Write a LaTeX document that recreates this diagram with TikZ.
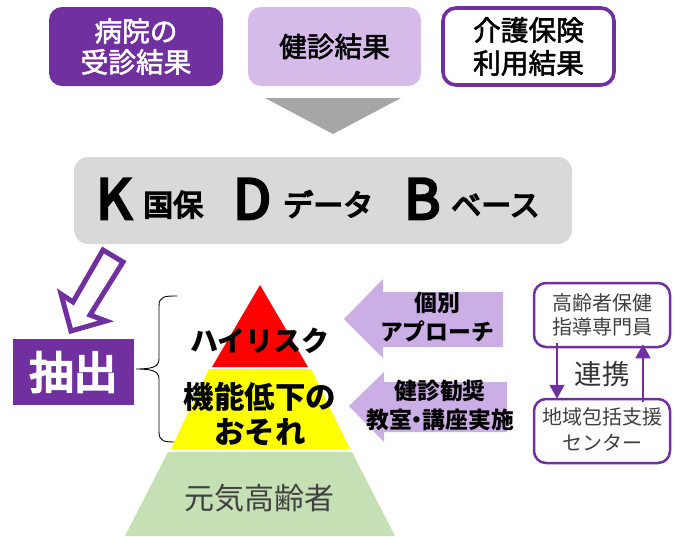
\documentclass[tikz,border=0pt]{standalone}
\usepackage{fontspec}
\setmainfont{Noto Sans CJK JP}
\newfontfamily\med[FakeBold=2]{Noto Sans CJK JP}
\newfontfamily\hvy[FakeBold=5]{Noto Sans CJK JP}
\usetikzlibrary{arrows.meta,calc}
\definecolor{pur}{HTML}{7030A0}
\definecolor{lpur}{HTML}{CCAEE6}
\definecolor{lpurb}{HTML}{D6BAEA}
\definecolor{gr}{HTML}{D9D9D9}
\definecolor{dgr}{HTML}{A6A6A6}
\definecolor{grn}{HTML}{C5E0B4}
\definecolor{yel}{HTML}{FFFF00}
\definecolor{rd}{HTML}{FF0000}
\newcommand{\fs}[2]{\fontsize{#1}{#2}\selectfont}
\tikzset{
 topbox/.style={rounded corners=13pt,minimum width=#1,minimum height=79pt,inner sep=0pt,align=center,font=\med\fs{27.7}{31}},
 lab/.style={inner sep=0pt,align=center},
 smallbox/.style={draw=pur,line width=2.5pt,fill=white,rounded corners=12pt,minimum width=136pt,minimum height=64pt,inner sep=0pt,align=center,text=black!75},
 linkarrow/.style={draw=pur,line width=1.6pt,-{Triangle[length=14pt,width=15pt]}},
}
\begin{document}
\begin{tikzpicture}[x=1pt,y=-1pt]
\useasboundingbox (0,0) rectangle (677,536);
% top boxes
\node[topbox=174pt,fill=pur,text=white] (hosp) at (136,46.5) {病院の\\受診結果};
\node[topbox=173pt,fill=lpurb] (kenshin) at (334.5,46.5) {健診結果};
\node[topbox=171pt,minimum height=77pt,draw=pur,line width=3.6pt,fill=white,font=\med\fs{27.7}{33}] (kaigo) at (528.5,46.5) {介護保険\\利用結果};
\fill[dgr] (265,98) -- (401,98) -- (333,134) -- cycle;
% KDB
\node[rounded corners=14pt,fill=gr,minimum width=498pt,minimum height=87pt,inner sep=0pt] (kdb) at (323,200.5) {};
\node[lab,anchor=base west,font=\hvy\fs{55}{60}] (k) at (96,219) {K};
\node[lab,anchor=base west,font=\hvy\fs{30}{32}] (kk) at (143,216) {国保};
\node[lab,anchor=base west,font=\hvy\fs{55}{60}] (d) at (233,219) {D};
\node[lab,anchor=base west,font=\hvy\fs{30}{32}] (dd) at (283,216) {データ};
\node[lab,anchor=base west,font=\hvy\fs{55}{60}] (b) at (404,219) {B};
\node[lab,anchor=base west,font=\hvy\fs{30}{32}] (bb) at (451,216) {ベース};
% hollow arrow
\draw[pur,line width=5pt,fill=white,miter limit=10] (103,250) -- (123,262) -- (90,315) -- (106,321) -- (71,331) -- (61,294) -- (73,302) -- cycle;
% extract
\node[fill=pur,text=white,minimum width=121pt,minimum height=66pt,inner sep=0pt,font=\hvy\fs{44}{48}] (ext) at (73.5,372) {抽出};
% brace
\coordinate (bt) at (177,296);
\coordinate (bb2) at (177,442);
\coordinate (btip) at (136,369);
\draw[black,line width=0.9pt] (bt) .. controls (165,296) and (159,296) .. (159,306)
 -- (159,359) .. controls (159,367) and (152,369) .. (btip)
 (btip) .. controls (152,369) and (159,371) .. (159,379)
 -- (159,432) .. controls (159,442) and (165,442) .. (bb2);
% pyramid
\fill[rd] (260,285) -- (308,367) -- (212,367) -- cycle;
\fill[yel] (209,369) -- (311,369) -- (350,449) -- (171,449) -- cycle;
\fill[grn] (168,452) -- (352,452) -- (395,536) -- (125,536) -- cycle;
\node[lab,font=\bfseries\fs{28}{32}] (hr) at (260,341) {ハイリスク};
\node[lab,font=\bfseries\fs{30.5}{35}] (kn) at (260,414) {機能低下の\\おそれ};
\node[lab,text=black!75,font=\fs{30}{34}] (gk) at (259,498) {元気高齢者};
% left arrows
\fill[lpur] (344,319) -- (383,279) -- (383,292) -- (503,292) -- (503,347) -- (383,347) -- (383,358) -- cycle;
\fill[lpur] (349,406) -- (384,372) -- (384,382) -- (507,382) -- (507,432) -- (384,432) -- (384,442) -- cycle;
\node[lab,font=\bfseries\fs{22.8}{29}] (ko) at (437,317.5) {個別\\アプローチ};
\node[lab,font=\bfseries\fs{22.8}{29}] (ke) at (440,405.5) {健診勧奨\\教室\hspace{-6pt}・\hspace{-6pt}講座実施};
% right boxes
\node[smallbox,font=\fs{20}{24}] (hok) at (602,315) {高齢者保健\\指導専門員};
\node[smallbox,font=\fs{20}{26}] (chi) at (602,431) {\raisebox{3pt}{地域包括支援}\\\raisebox{3pt}{センター}};
\draw[linkarrow] ([xshift=-45pt,yshift=5pt]hok.south) -- ([xshift=-45pt,yshift=-1pt]chi.north);
\draw[linkarrow] ([xshift=41pt,yshift=-4pt]chi.north) -- ([xshift=41pt,yshift=4pt]hok.south);
\node[lab,text=black!80,font=\fs{27.5}{30}] (ren) at (602,374) {連携};
\end{tikzpicture}
\end{document}
